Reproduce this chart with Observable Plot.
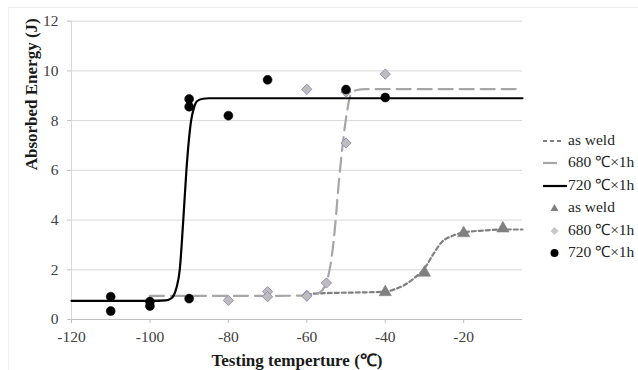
<!DOCTYPE html>
<html>
<head>
<meta charset="utf-8">
<script src="https://cdn.jsdelivr.net/npm/d3@7"></script>
<script src="https://cdn.jsdelivr.net/npm/@observablehq/plot@0.6"></script>
<style>
  html, body { margin: 0; padding: 0; background: #fff; }
  #wrap { position: relative; width: 638px; height: 370px; overflow: hidden; font-family: "Liberation Serif", serif; }
  #border { position: absolute; left: 8px; top: 7px; width: 700px; height: 400px; border: 1px solid #f0f0f0; box-sizing: border-box; }
  #chart svg, #chart svg text { font-family: "Liberation Serif", serif !important; }
  #legend { position: absolute; left: 540px; top: 128.5px; width: 98px; }
  .row { position: relative; height: 22.6px; font-size: 15.5px; color: #262626; white-space: nowrap; font-family: "Liberation Serif", serif !important; }
  .row svg { position: absolute; left: 0; top: 0; }
  .row span { position: absolute; left: 28px; top: 2px; line-height: 18px; font-family: "Liberation Serif", serif !important; }
</style>
</head>
<body>
<div id="wrap">
  <div id="border"></div>
  <div id="chart"></div>
  <div id="legend"></div>
</div>
<script>
// ---- data ----
const xTicks = [-120, -100, -80, -60, -40, -20];
const yTicks = [0, 2, 4, 6, 8, 10, 12];

// measured points
const asWeldT = [-40, -30, -20, -10];
const asWeldE = [1.1, 1.88, 3.47, 3.66];

const t680 = [-80, -70, -70, -60, -60, -55, -50, -50, -60, -40];
const e680 = [0.77, 1.12, 0.92, 0.97, 0.94, 1.47, 7.1, 9.15, 9.26, 9.87];

const t720 = [-110, -110, -100, -100, -90, -90, -90, -80, -70, -50, -40];
const e720 = [0.92, 0.34, 0.72, 0.54, 0.84, 8.87, 8.56, 8.2, 9.64, 9.25, 8.93];

// fitted curves, points
const asWeldCurveT = [-60, -58, -50, -43, -40, -37.5, -35.3, -32.8, -29.8, -27.7, -25.6, -22.6, -19.6, -15, -9.9, -5];
const asWeldCurveE = [1.0, 1.04, 1.08, 1.1, 1.12, 1.22, 1.37, 1.64, 2.1, 2.64, 3.11, 3.38, 3.51, 3.58, 3.62, 3.62];

const c680T = [-100, -80, -60, -57.5, -56.1, -54.7, -53.6, -52.7, -51.9, -50.8, -49.8, -48.9, -47.5, -45, -5];
const c680E = [0.95, 0.95, 0.96, 1.02, 1.17, 1.64, 2.58, 3.9, 5.4, 7.1, 8.3, 9.0, 9.22, 9.27, 9.27];

const c720T = [-120, -100, -96, -94.8, -94, -93.2, -92.4, -91.5, -90.7, -89.5, -88.8, -88, -86.5, -85, -5];
const c720E = [0.75, 0.75, 0.77, 0.83, 0.95, 1.3, 2.0, 4.0, 6.0, 8.0, 8.5, 8.78, 8.88, 8.9, 8.9];

const seriesNames = ["as weld", "680 \u2103\u00d71h", "720 \u2103\u00d71h"];
const xTitle = "Testing temperture (\u2103)";
const yTitle = "Absorbed Energy (J)";

// ---- build tables ----
const zip = (xs, ys) => xs.map((x, i) => ({x, y: ys[i]}));
const asWeldPts = zip(asWeldT, asWeldE);
const pts680 = zip(t680, e680);
const pts720 = zip(t720, e720);
const curveAW = zip(asWeldCurveT, asWeldCurveE);
const curve680 = zip(c680T, c680E);
const curve720 = zip(c720T, c720E);

const fmt = d => String(d);
const serif = "Liberation Serif, serif";

const chart = Plot.plot({
  width: 638,
  height: 370,
  marginLeft: 71,
  marginRight: 116,
  marginTop: 20.7,
  marginBottom: 51,
  style: {fontFamily: serif, fontSize: "15.5px", color: "#404040", background: "transparent", overflow: "visible"},
  x: {domain: [-120, -5]},
  y: {domain: [0, 12]},
  marks: [
    Plot.gridY(yTicks, {stroke: "#d9d9d9", strokeOpacity: 1}),
    Plot.ruleX([-120], {stroke: "#d9d9d9"}),
    Plot.ruleY([0], {stroke: "#bfbfbf"}),
    Plot.axisY(yTicks, {tickSize: 4, tickPadding: 9, stroke: "#bfbfbf", fill: "#404040", tickFormat: fmt, label: null, fontFamily: serif}),
    Plot.axisX(xTicks, {tickSize: 4, tickPadding: 7.5, stroke: "#bfbfbf", fill: "#404040", tickFormat: fmt, label: null, fontFamily: serif}),
    Plot.line(curveAW, {x: "x", y: "y", curve: "monotone-x", stroke: "#808080", strokeWidth: 2.2, strokeDasharray: "4,3"}),
    Plot.line(curve680, {x: "x", y: "y", curve: "monotone-x", stroke: "#a6a6a6", strokeWidth: 2.2, strokeDasharray: "14,7"}),
    Plot.line(curve720, {x: "x", y: "y", curve: "monotone-x", stroke: "#000", strokeWidth: 2.2}),
    Plot.dot(asWeldPts, {x: "x", y: "y", symbol: "triangle", r: 4.6, fill: "#808080", stroke: "#808080", strokeWidth: 0.5}),
    Plot.dot(pts680, {x: "x", y: "y", symbol: "diamond2", r: 4.6, fill: "#bdbdbd", stroke: "#9a8cb8", strokeWidth: 1}),
    Plot.dot(pts720, {x: "x", y: "y", symbol: "circle", r: 4.5, fill: "#000", stroke: "#000", strokeWidth: 0.5}),
    Plot.text([xTitle], {frameAnchor: "bottom", dy: 41, fontWeight: "bold", fontSize: 17, fill: "#1a1a1a", lineAnchor: "middle", fontFamily: serif}),
    Plot.text([yTitle], {frameAnchor: "left", dx: -39.5, rotate: -90, fontWeight: "bold", fontSize: 17, fill: "#1a1a1a", lineAnchor: "middle", fontFamily: serif})
  ]
});
document.getElementById("chart").appendChild(chart);

// ---- legend ----
const legendItems = [
  {label: seriesNames[0], kind: "line", stroke: "#808080", dash: "4,3", x2: 24},
  {label: seriesNames[1], kind: "line", stroke: "#a6a6a6", dash: "14,7", x2: 18},
  {label: seriesNames[2], kind: "line", stroke: "#000", dash: null, x2: 27},
  {label: seriesNames[0], kind: "triangle"},
  {label: seriesNames[1], kind: "diamond"},
  {label: seriesNames[2], kind: "circle"}
];
const legend = document.getElementById("legend");
for (const it of legendItems) {
  const row = document.createElement("div");
  row.className = "row";
  let g = "";
  if (it.kind === "line") {
    g = `<line x1="3" x2="${it.x2}" y1="12" y2="12" stroke="${it.stroke}" stroke-width="2.2" ${it.dash ? `stroke-dasharray="${it.dash}"` : ""}/>`;
  } else if (it.kind === "triangle") {
    g = `<path d="M14.5,8 L18.5,15 L10.5,15 Z" fill="#808080"/>`;
  } else if (it.kind === "diamond") {
    g = `<path d="M14.5,8 L18.5,12 L14.5,16 L10.5,12 Z" fill="#c8c8c8"/>`;
  } else {
    g = `<circle cx="14.5" cy="12" r="4" fill="#000"/>`;
  }
  row.innerHTML = `<svg width="30" height="22">${g}</svg><span>${it.label}</span>`;
  legend.appendChild(row);
}
</script>
</body>
</html>
